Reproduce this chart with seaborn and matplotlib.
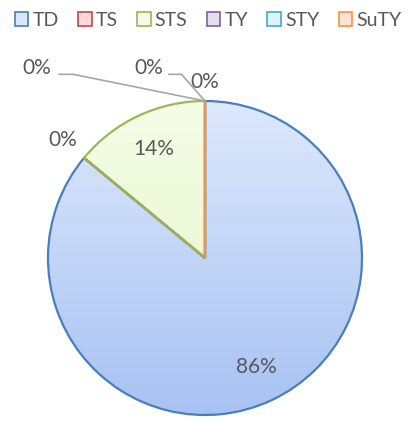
import numpy as np
import seaborn as sns
import matplotlib.pyplot as plt
from matplotlib.patches import Patch
from matplotlib.colors import LinearSegmentedColormap

categories = ['TD', 'TS', 'STS', 'TY', 'STY', 'SuTY']
values = [86, 0, 14, 0, 0, 0]

edge_colors = ['#4a7ebb', '#be4b48', '#98b954', '#7d60a0', '#46aac5', '#f69240']
light_colors = ['#dde8fc', '#ffd9d9', '#f5fde8', '#e6def0', '#dcf5fb', '#fde4d0']
dark_colors = ['#a7c2f3', '#f5a6a4', '#e2f5c2', '#c9b8de', '#a8e2f0', '#fbc49a']

sns.set_theme(style='white')
plt.rcParams['font.family'] = ['Lato', 'DejaVu Sans']
text_color = '#595959'

fig = plt.figure(figsize=(4.16, 4.22), dpi=100)
ax = fig.add_axes([0, 0, 1, 1])

wedges, _ = ax.pie(values, startangle=90, counterclock=False, radius=1,
                   wedgeprops=dict(linewidth=1.6))

# gradient fill, light at top -> darker at bottom
grad = np.linspace(0, 1, 256).reshape(-1, 1)
for w, ec, lc, dc in zip(wedges, edge_colors, light_colors, dark_colors):
    w.set_edgecolor(ec)
    w.set_facecolor('none')
    w.set_zorder(3)
    cmap = LinearSegmentedColormap.from_list('g', [dc, lc])
    im = ax.imshow(grad, extent=(-1, 1, -1, 1), cmap=cmap, aspect='auto',
                   origin='lower', zorder=2)
    im.set_clip_path(w)

# labels
total = sum(values)
fs = 15
for i, (w, v) in enumerate(zip(wedges, values)):
    ang = np.deg2rad((w.theta1 + w.theta2) / 2)
    txt = '%.0f%%' % (v / total * 100)
    if v > 0:
        x, y = 0.77 * np.cos(ang), 0.77 * np.sin(ang)
        ax.text(x, y, txt, ha='center', va='center', fontsize=fs, color=text_color, zorder=5)
    elif categories[i] == 'TS':
        x, y = 1.18 * np.cos(ang), 1.18 * np.sin(ang)
        ax.text(x, y, txt, ha='center', va='center', fontsize=fs, color=text_color, zorder=5)
    elif categories[i] == 'TY':
        ax.plot([0, -0.84, -0.93], [1, 1.17, 1.17], color='#a6a6a6', lw=1.2, zorder=4)
        ax.text(-1.07, 1.21, txt, ha='center', va='center', fontsize=fs, color=text_color, zorder=5)
    elif categories[i] == 'STY':
        ax.plot([0, -0.15, -0.23], [1, 1.17, 1.17], color='#a6a6a6', lw=1.2, zorder=4)
        ax.text(-0.36, 1.21, txt, ha='center', va='center', fontsize=fs, color=text_color, zorder=5)
    else:
        ax.text(0.0, 1.12, txt, ha='center', va='center', fontsize=fs, color=text_color, zorder=5)

ax.set_xlim(-205 / 157, 211 / 157)
ax.set_ylim(-164 / 157, 258 / 157)
ax.set_aspect('equal')
ax.axis('off')

handles = [Patch(facecolor=lc, edgecolor=ec, linewidth=1.2) for lc, ec in zip(light_colors, edge_colors)]
fig.legend(handles, categories, loc='upper center', bbox_to_anchor=(0.5, 1.0), ncol=6,
           frameon=False, fontsize=14, labelcolor=text_color, handlelength=0.7,
           handleheight=0.7, handletextpad=0.2, columnspacing=1.0, borderaxespad=0.2)

fig.savefig('out.png', dpi=100)
